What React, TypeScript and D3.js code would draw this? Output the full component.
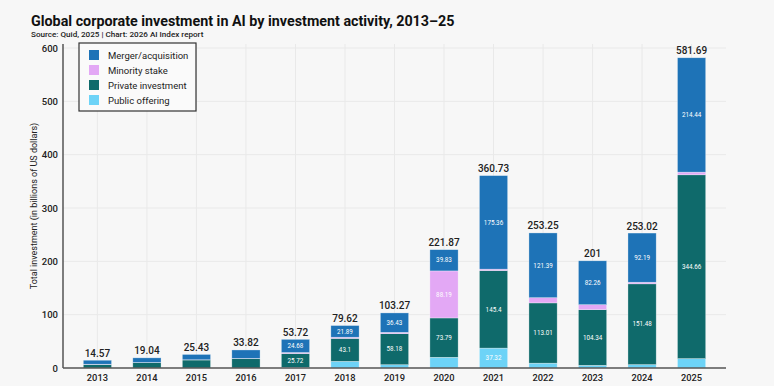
import * as d3 from 'd3'

const years = ['2013', '2014', '2015', '2016', '2017', '2018', '2019', '2020', '2021', '2022', '2023', '2024', '2025']
const seriesKeys = ['public', 'private', 'minority', 'merger']
const seriesNames = ['Public offering', 'Private investment', 'Minority stake', 'Merger/acquisition']
const seriesColors = ['#6dd3f7', '#0f6a6b', '#e3a8f5', '#1e73b7']

const publicOffering = [0, 0, 0, 0, 1.32, 12.43, 6.16, 20.06, 37.32, 9.05, 5.0, 6.35, 17.59]
const privateInvestment = [6.5, 10.0, 15.0, 17.5, 25.72, 43.1, 58.18, 73.79, 145.4, 113.01, 104.34, 151.48, 344.66]
const minorityStake = [0.6, 0.34, 0.43, 0.52, 2.0, 2.2, 2.5, 88.19, 2.65, 9.8, 9.4, 3.0, 5.0]
const mergerAcquisition = [7.47, 8.7, 10.0, 15.8, 24.68, 21.89, 36.43, 39.83, 175.36, 121.39, 82.26, 92.19, 214.44]
const totals = [14.57, 19.04, 25.43, 33.82, 53.72, 79.62, 103.27, 221.87, 360.73, 253.25, 201, 253.02, 581.69]
const yTicks = [0, 100, 200, 300, 400, 500, 600]

const legendOrder = [3, 2, 1, 0]

const W = 774
const H = 386
const margin = { top: 48, right: 48, bottom: 18, left: 63 }
const font = 'Roboto, "Liberation Sans", sans-serif'

export default function App() {
  const innerW = W - margin.left - margin.right
  const innerH = H - margin.top - margin.bottom

  const rows = years.map((y, i) => ({
    year: y,
    public: publicOffering[i],
    private: privateInvestment[i],
    minority: minorityStake[i],
    merger: mergerAcquisition[i],
  }))
  const stacked = d3.stack<any>().keys(seriesKeys)(rows)

  const x = d3
    .scaleBand()
    .domain(years)
    .range([0, innerW])
    .paddingInner(0.43)
    .paddingOuter(0.41)
  const y = d3.scaleLinear().domain([0, 600]).range([innerH, 0])

  return (
    <svg
      width={W}
      height={H}
      style={{ position: 'absolute', top: 0, left: 0, background: '#f7f7f7', fontFamily: font }}
    >
      <rect width={W} height={H} fill="#f7f7f7" />
      <text x={31} y={26} fontSize={14.3} fontWeight={700} fill="#111">
        Global corporate investment in AI by investment activity, 2013–25
      </text>
      <text x={31} y={37} fontSize={8.1} fontWeight={500} fill="#222">
        Source: Quid, 2025 | Chart: 2026 AI Index report
      </text>
      <text
        transform={`translate(37,${margin.top + innerH / 2 - 2}) rotate(-90)`}
        textAnchor="middle"
        fontSize={9}
        fill="#222"
      >
        Total investment (in billions of US dollars)
      </text>

      <g transform={`translate(${margin.left},${margin.top})`}>
        {yTicks.map((t) => (
          <g key={t}>
            {t > 0 && (
              <line x1={0} x2={innerW} y1={y(t)} y2={y(t)} stroke="#e9e9e9" strokeWidth={1} />
            )}
            <text x={-5} y={y(t) + 3.5} textAnchor="end" fontSize={9.5} fontWeight={500} fill="#222">
              {t}
            </text>
          </g>
        ))}
        {years.map((yr) => (
          <line
            key={yr}
            x1={x(yr)! + x.bandwidth() / 2}
            x2={x(yr)! + x.bandwidth() / 2}
            y1={-4}
            y2={innerH}
            stroke="#e9e9e9"
            strokeWidth={1}
          />
        ))}

        {stacked.map((s, si) => (
          <g key={s.key} fill={seriesColors[si]}>
            {s.map((d, i) => {
              const h = y(d[0]) - y(d[1])
              if (h <= 0) return null
              return (
                <rect
                  key={i}
                  x={x(years[i])}
                  y={y(d[1])}
                  width={x.bandwidth()}
                  height={h}
                  stroke="#ffffff"
                  strokeOpacity={0.5}
                  strokeWidth={0.6}
                />
              )
            })}
          </g>
        ))}

        {stacked.map((s) =>
          s.map((d, i) => {
            const v = d[1] - d[0]
            if (v < 21) return null
            return (
              <text
                key={s.key + i}
                x={x(years[i])! + x.bandwidth() / 2}
                y={(y(d[0]) + y(d[1])) / 2 + 2.2}
                textAnchor="middle"
                fontSize={6.3}
                fill="#ffffff"
              >
                {+v.toFixed(2)}
              </text>
            )
          })
        )}

        {totals.map((t, i) => (
          <text
            key={i}
            x={x(years[i])! + x.bandwidth() / 2}
            y={y(t) - 3.5}
            textAnchor="middle"
            fontSize={10}
            fontWeight={500}
            fill="#222"
          >
            {t}
          </text>
        ))}

        {years.map((yr) => (
          <text
            key={yr}
            x={x(yr)! + x.bandwidth() / 2}
            y={innerH + 13}
            textAnchor="middle"
            fontSize={9.3}
            fontWeight={500}
            fill="#222"
          >
            {yr}
          </text>
        ))}

        <line x1={0} x2={innerW} y1={innerH} y2={innerH} stroke="#555" strokeWidth={1.5} />
        <line x1={0} x2={0} y1={-4} y2={innerH} stroke="#555" strokeWidth={1.5} />

        <g transform={`translate(16,-5)`}>
          <rect width={117} height={68} fill="#fafafa" stroke="#333" strokeWidth={1.2} />
          {legendOrder.map((si, k) => (
            <g key={si} transform={`translate(10,${7 + k * 15})`}>
              <rect width={10} height={10} fill={seriesColors[si]} />
              <text x={19} y={8.5} fontSize={9.5} fill="#222">
                {seriesNames[si]}
              </text>
            </g>
          ))}
        </g>
      </g>
    </svg>
  )
}
